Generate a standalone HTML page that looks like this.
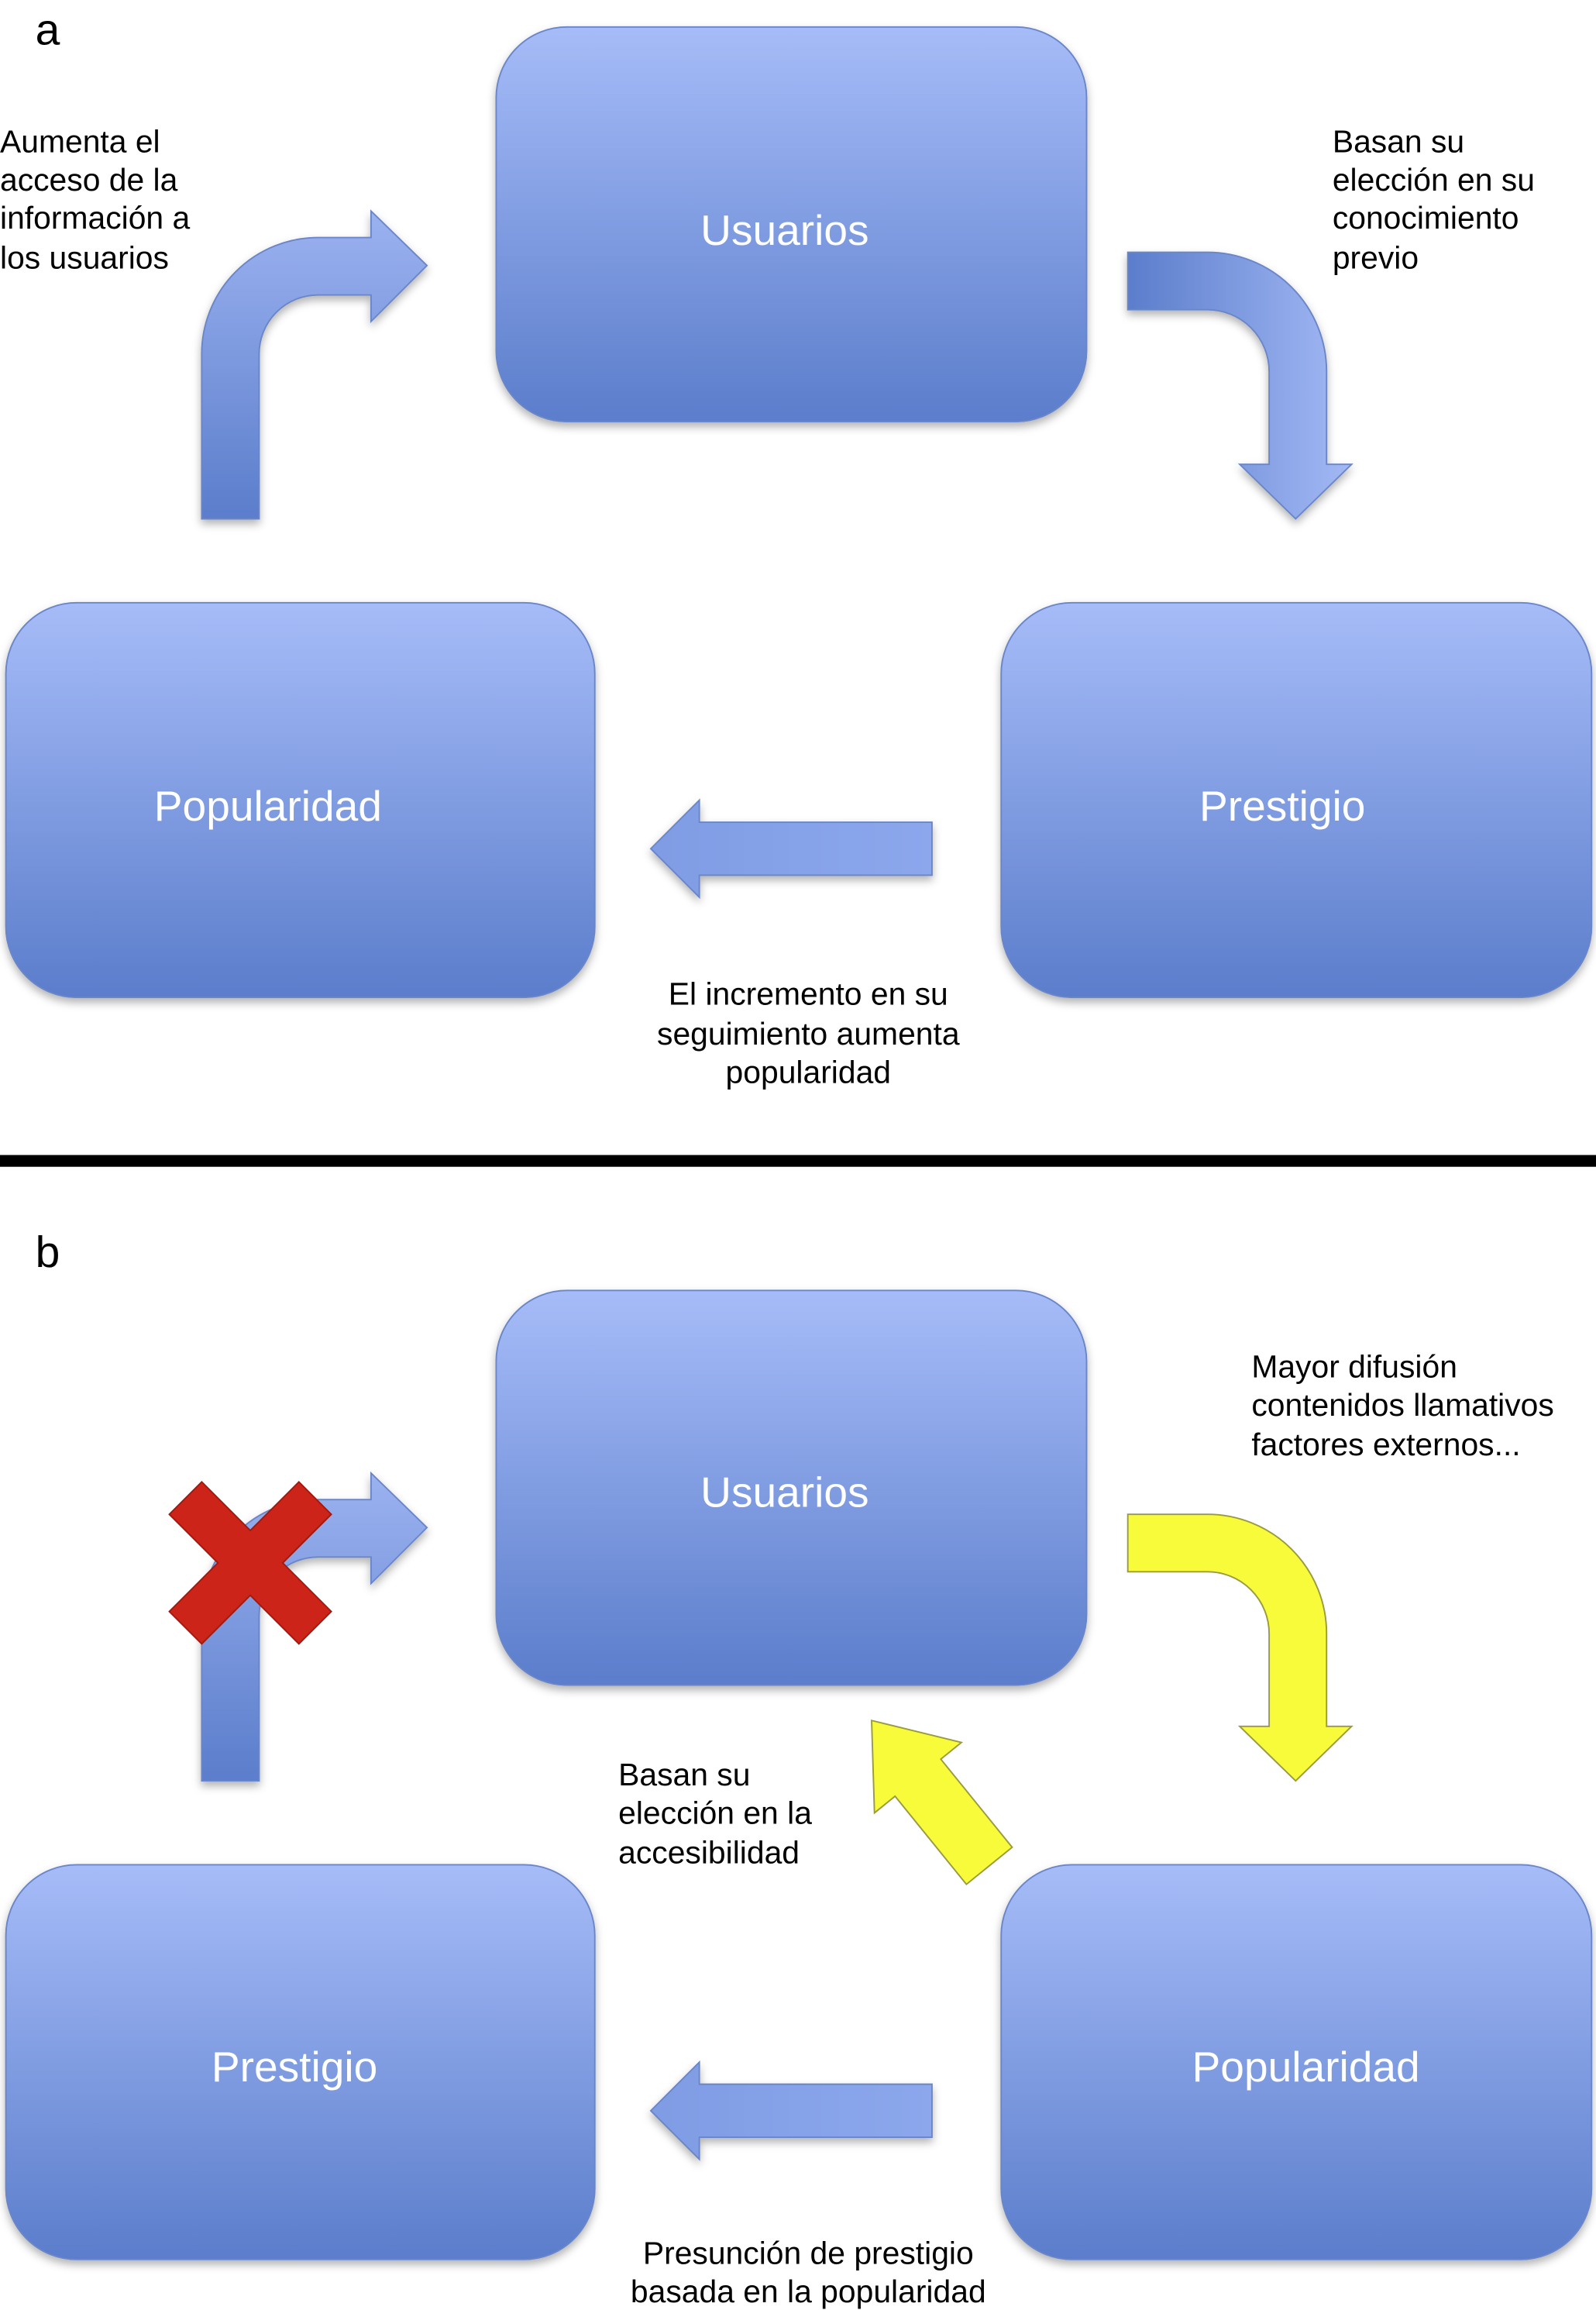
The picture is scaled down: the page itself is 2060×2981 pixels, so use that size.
<!DOCTYPE html>
<html><head><meta charset="utf-8"><style>html,body{margin:0;padding:0;background:#fff}svg{display:block}</style></head><body>
<svg width="2060" height="2981" viewBox="0 0 1084 1568" xmlns="http://www.w3.org/2000/svg" font-family="Liberation Sans, Arial, sans-serif">
<defs>
<linearGradient id="g" x1="0" y1="0" x2="0" y2="1"><stop offset="0" stop-color="#a6bcf8"/><stop offset="1" stop-color="#5b7dcb"/></linearGradient>
<linearGradient id="gv" x1="0" y1="0" x2="0" y2="1"><stop offset="0" stop-color="#9bb2f0"/><stop offset="1" stop-color="#5b7dcb"/></linearGradient>
<linearGradient id="gh" x1="0" y1="0" x2="1" y2="0"><stop offset="0" stop-color="#5b7dcb"/><stop offset="1" stop-color="#a3b9f5"/></linearGradient>
<linearGradient id="gl" x1="0" y1="0" x2="1" y2="0"><stop offset="0" stop-color="#7f9ce4"/><stop offset="1" stop-color="#8ca7ec"/></linearGradient>
<filter id="s" x="-10%" y="-10%" width="120%" height="125%"><feDropShadow dx="0" dy="3" stdDeviation="3" flood-color="#000" flood-opacity="0.3"/></filter>
</defs>
<g filter="url(#s)" stroke="#6a86c8" stroke-width="1">
<rect x="337" y="18" width="401" height="268" rx="48" fill="url(#g)"/>
<rect x="4" y="409" width="400" height="268" rx="48" fill="url(#g)"/>
<rect x="680" y="409" width="401" height="268" rx="48" fill="url(#g)"/>
<rect x="337" y="876" width="401" height="268" rx="48" fill="url(#g)"/>
<rect x="4" y="1266" width="400" height="268" rx="48" fill="url(#g)"/>
<rect x="680" y="1266" width="401" height="268" rx="48" fill="url(#g)"/>
<path d="M137,352 L137,240 A79,79 0 0 1 216,161 L252,161 L252,143 L290,180 L252,218 L252,200 L216,200 A40,40 0 0 0 176,240 L176,352 Z" fill="url(#gv)"/>
<path d="M766,171 L820,171 A81,81 0 0 1 901,252 L901,315 L918,315 L880,352 L842,315 L862,315 L862,252 A42,42 0 0 0 820,210 L766,210 Z" fill="url(#gh)"/>
<path d="M633,558 L475,558 L475,543 L442,576 L475,609 L475,594 L633,594 Z" fill="url(#gl)"/>
<path d="M137,1209 L137,1097 A79,79 0 0 1 216,1018 L252,1018 L252,1000 L290,1037 L252,1075 L252,1057 L216,1057 A40,40 0 0 0 176,1097 L176,1209 Z" fill="url(#gv)"/>
<path d="M633,1415 L475,1415 L475,1400 L442,1433 L475,1466 L475,1451 L633,1451 Z" fill="url(#gl)"/>
</g>
<g stroke="#9a9a40" stroke-width="1" fill="#f7fb3a">
<path d="M766,1028 L820,1028 A81,81 0 0 1 901,1109 L901,1172 L918,1172 L880,1209 L842,1172 L862,1172 L862,1109 A42,42 0 0 0 820,1067 L766,1067 Z"/>
<path transform="translate(592,1168) rotate(-39)" d="M0,0 L38,50 L20,50 L20,127 L-20,127 L-20,50 L-38,50 Z"/>
</g>
<g transform="translate(170,1061)" fill="#cc2418" stroke="#a01a10" stroke-width="1">
<path d="M-55,-33 L-33,-55 L0,-22 L33,-55 L55,-33 L22,0 L55,33 L33,55 L0,22 L-33,55 L-55,33 L-22,0 Z"/>
</g>
<rect x="0" y="784" width="1084" height="8" fill="#000"/>
<g fill="#fff" font-size="29" text-anchor="middle">
<text x="533" y="166">Usuarios</text>
<text x="182" y="557">Popularidad</text>
<text x="871" y="557">Prestigio</text>
<text x="533" y="1023">Usuarios</text>
<text x="200" y="1413">Prestigio</text>
<text x="887" y="1413">Popularidad</text>
</g>
<g fill="#000" font-size="30"><text x="24" y="30">a</text><text x="24" y="860">b</text></g>
<g fill="#000" font-size="21.5">
<text x="0" y="103">Aumenta el</text><text x="0" y="129">acceso de la</text><text x="0" y="155">información a</text><text x="0" y="182">los usuarios</text>
<text x="905" y="103">Basan su</text><text x="905" y="129">elección en su</text><text x="905" y="155">conocimiento</text><text x="905" y="182">previo</text>
<g text-anchor="middle"><text x="549" y="682">El incremento en su</text><text x="549" y="709">seguimiento aumenta</text><text x="549" y="735">popularidad</text>
<text x="549" y="1537">Presunción de prestigio</text><text x="549" y="1563">basada en la popularidad</text></g>
<text x="850" y="935">Mayor difusión</text><text x="850" y="961">contenidos llamativos</text><text x="850" y="988">factores externos...</text>
<text x="420" y="1212">Basan su</text><text x="420" y="1238">elección en la</text><text x="420" y="1265">accesibilidad</text>
</g>
</svg>
</body></html>
